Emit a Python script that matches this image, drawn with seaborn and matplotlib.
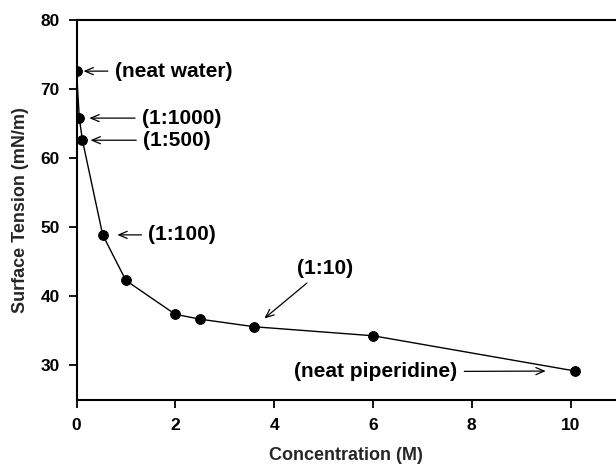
import matplotlib
matplotlib.use("Agg")
import matplotlib.pyplot as plt
import seaborn as sns
import pandas as pd

# Data
concentration = [0.0, 0.057, 0.12, 0.53, 1.0, 2.0, 2.5, 3.6, 6.0, 10.09]
surface_tension = [72.6, 65.8, 62.6, 48.9, 42.3, 37.4, 36.7, 35.6, 34.3, 29.2]

labels = ["(neat water)", "(1:1000)", "(1:500)", "(1:100)", "(1:10)", "(neat piperidine)"]
label_idx = [0, 1, 2, 3, 7, 9]

x_ticks = [0, 2, 4, 6, 8, 10]
y_ticks = [30, 40, 50, 60, 70, 80]

df = pd.DataFrame({"Concentration (M)": concentration,
                   "Surface Tension (mN/m)": surface_tension})

sns.set_style("ticks")
plt.rcParams["font.family"] = ["Liberation Sans", "DejaVu Sans"]
plt.rcParams["font.weight"] = "bold"

fig = plt.figure(figsize=(6.16, 4.68), dpi=100)
ax = fig.add_axes([76.5 / 616, 68 / 468, 1 - 76.5 / 616, 380 / 468])

sns.lineplot(data=df, x="Concentration (M)", y="Surface Tension (mN/m)", ax=ax,
             color="black", linewidth=1.0, marker="o", markersize=7,
             markerfacecolor="black", markeredgecolor="black", sort=False)

ax.set_xlim(0, 539.5 / 49.4)
ax.set_ylim(25, 80)
ax.set_xticks(x_ticks)
ax.set_yticks(y_ticks)
ax.tick_params(axis="both", labelsize=12.5, width=1.3, length=6, direction="out",
               colors="black", pad=6)
ax.tick_params(axis="x", pad=7)
for lab in ax.get_xticklabels() + ax.get_yticklabels():
    lab.set_fontweight("bold")

for s in ["left", "bottom", "top"]:
    ax.spines[s].set_visible(True)
    ax.spines[s].set_linewidth(1.5)
    ax.spines[s].set_color("black")
ax.spines["right"].set_visible(False)

ax.set_xlabel("Concentration (M)", fontsize=13, fontweight="bold", labelpad=10)
ax.set_ylabel("Surface Tension (mN/m)", fontsize=13, fontweight="bold", labelpad=8)

arrow_style = "->,head_length=0.4,head_width=0.17"
# (text offset in points, ha, va, shrinkB)
specs = [((27.4, 0), "left", "center", 5.0),
         ((45.0, 0), "left", "center", 7.2),
         ((43.6, 0), "left", "center", 5.8),
         ((32.8, 0), "left", "center", 10.5),
         ((50.9, 42.3), "center", "center", 9.3),
         ((-84.5, -0.5), "right", "center", 21.0)]

for lab, i, (off, ha, va, shB) in zip(labels, label_idx, specs):
    ax.annotate(lab, xy=(concentration[i], surface_tension[i]), xycoords="data",
                xytext=off, textcoords="offset points", ha=ha, va=va,
                fontsize=15, fontweight="bold", color="black",
                arrowprops=dict(arrowstyle=arrow_style, color="black", lw=0.9,
                                shrinkA=2.5, shrinkB=shB))

fig.savefig("out.png", dpi=100)
